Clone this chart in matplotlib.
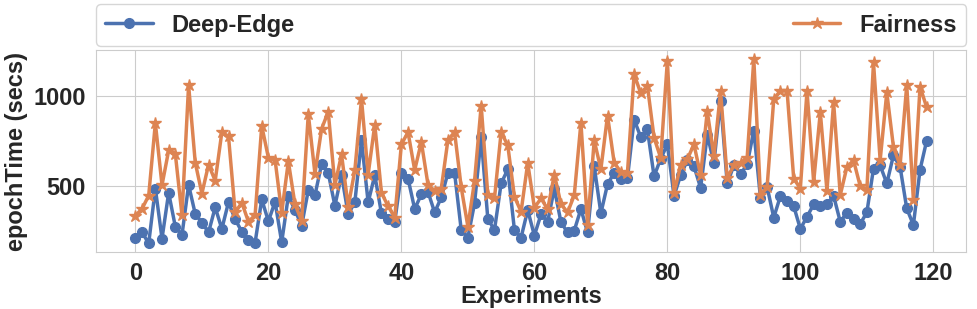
import matplotlib
matplotlib.use("Agg")
import matplotlib.pyplot as plt
import seaborn as sns

sns.set_style("whitegrid")
plt.rcParams['font.family'] = ['Liberation Sans', 'DejaVu Sans']

deep_edge = [214, 242, 182, 487, 208, 463, 275, 227, 507, 345,
             297, 243, 382, 262, 411, 315, 247, 201, 186, 426,
             305, 413, 188, 446, 367, 280, 478, 450, 622, 574,
             391, 563, 343, 411, 755, 410, 561, 349, 315, 301,
             572, 542, 373, 454, 469, 354, 437, 574, 574, 256,
             214, 404, 773, 317, 256, 515, 594, 256, 214, 367,
             225, 343, 302, 487, 299, 242, 253, 373, 242, 611,
             349, 511, 574, 542, 546, 871, 773, 816, 555, 653,
             733, 446, 561, 644, 611, 491, 786, 631, 976, 515,
             616, 566, 622, 810, 435, 496, 325, 445, 417, 389,
             262, 330, 398, 389, 400, 446, 302, 352, 317, 290,
             354, 598, 616, 515, 672, 607, 376, 284, 592, 754]
fairness = [336, 374, 448, 851, 506, 699, 681, 339, 1063, 631,
            459, 620, 530, 801, 777, 354, 408, 302, 339, 836,
            658, 648, 352, 638, 398, 308, 902, 570, 819, 915,
            506, 677, 386, 589, 985, 565, 843, 463, 389, 325,
            733, 801, 589, 746, 509, 474, 487, 758, 801, 493,
            275, 528, 949, 450, 432, 801, 727, 441, 358, 629,
            380, 432, 371, 565, 400, 354, 450, 853, 284, 755,
            594, 893, 631, 579, 576, 1124, 1017, 1059, 770, 657,
            1200, 463, 616, 650, 733, 561, 917, 666, 1028, 546,
            616, 629, 659, 1207, 450, 496, 985, 1032, 1032, 542,
            487, 1032, 524, 912, 474, 967, 450, 607, 644, 500,
            478, 1189, 644, 1022, 718, 616, 1063, 421, 1054, 939]
experiments = list(range(len(deep_edge)))

fig, ax = plt.subplots(figsize=(9.78, 3.09), dpi=100)
fig.subplots_adjust(left=0.098, right=0.988, top=0.838, bottom=0.183)

ax.plot(experiments, deep_edge, marker="o", markersize=7, linewidth=2.5,
        color="#4C72B0", label="Deep-Edge")
ax.plot(experiments, fairness, marker="*", markersize=9, linewidth=2.5,
        color="#DD8452", label="Fairness")

ax.set_xlabel("Experiments", fontsize=17, fontweight="bold", labelpad=0)
ax.set_ylabel("epochTime (secs)", fontsize=17, fontweight="bold")
ax.set_xticks([0, 20, 40, 60, 80, 100, 120])
ax.set_yticks([500, 1000])
for lbl in ax.get_xticklabels() + ax.get_yticklabels():
    lbl.set_fontsize(17)
    lbl.set_fontweight("bold")

ax.legend(bbox_to_anchor=(0, 1.02, 1, 0.2), loc="lower left", mode="expand",
          ncol=2, borderaxespad=0, prop={"size": 17, "weight": "bold"})

fig.savefig("out.png", dpi=100)
